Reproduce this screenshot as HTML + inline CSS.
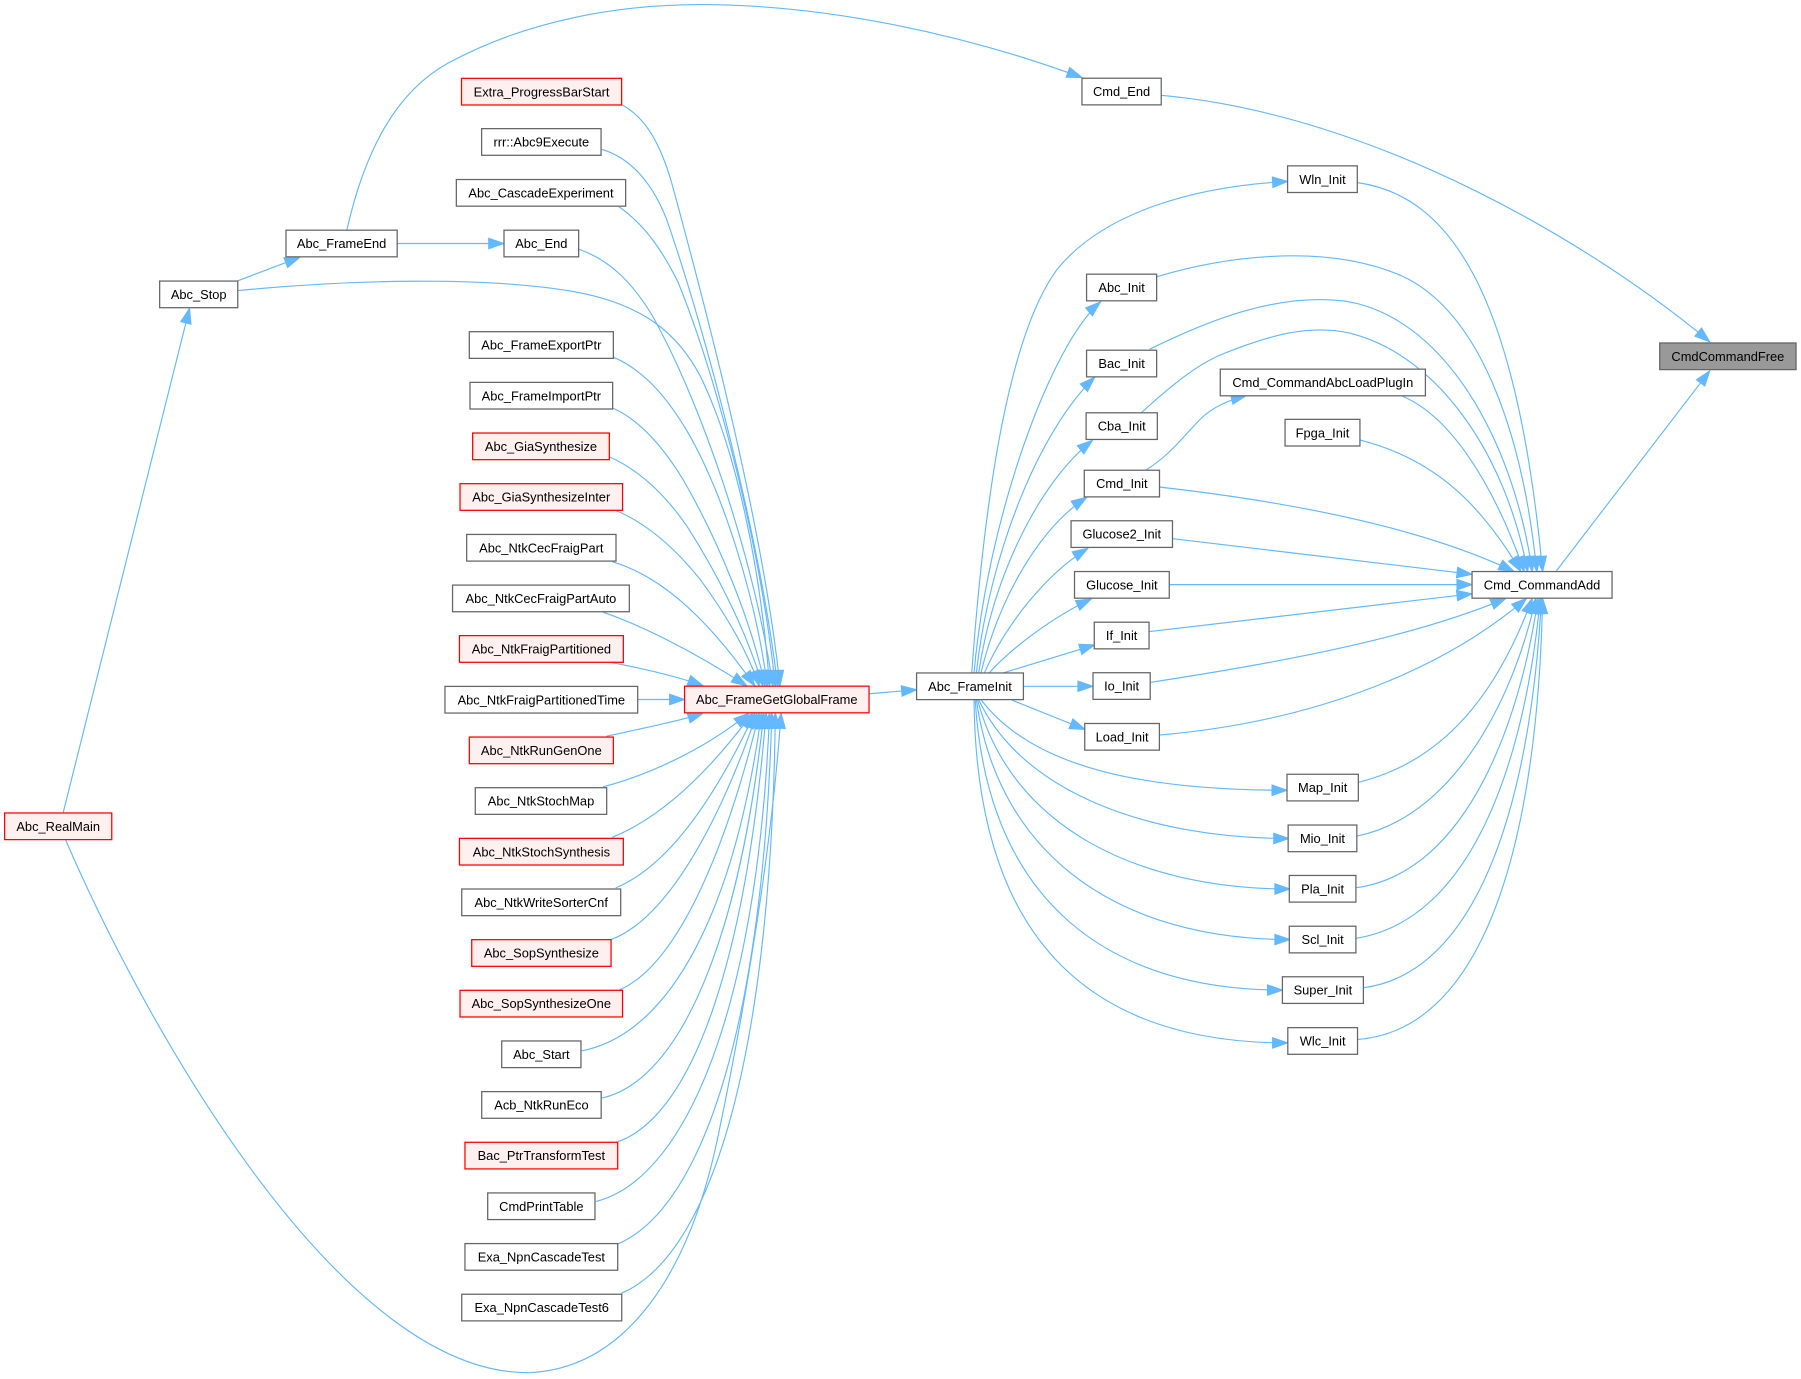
<!DOCTYPE html>
<html><head><meta charset="utf-8"><style>
html,body{margin:0;padding:0;background:#fff;}
svg{display:block;}
.n rect{fill:#fff;stroke:#666;stroke-width:1.1;}
.n.r rect{fill:#fff0f0;stroke:#ff0000;}
.n.g rect{fill:#999;stroke:#666;}
text{font-family:"Liberation Sans",Arial,Helvetica,sans-serif;font-size:11.2px;fill:#000;text-anchor:middle;}
.e{fill:none;stroke:#63b8ff;stroke-width:1;marker-end:url(#a);}
</style></head><body>
<svg width="1801" height="1379" viewBox="0 0 1568 1200.6" xmlns="http://www.w3.org/2000/svg">
<defs><marker id="a" markerUnits="userSpaceOnUse" markerWidth="16" markerHeight="12" refX="13" refY="5" orient="auto" overflow="visible"><path d="M0,0.5 L13,5 L0,9.5 z" fill="#63b8ff" stroke="#63b8ff" stroke-width="1"/></marker></defs>

<!-- edges -->
<g>
<path class="e" d="M55,707.5 L165,268.5"/>
<path class="e" d="M207,244.5 L261,224"/>
<path class="e" d="M346,212 L438.5,212"/>
<path class="e" d="M302,200 C318,130 345,80 390,55 C460,17 540,4 610,4 C720,4 840,30 942,67.5"/>
<path class="e" d="M1011,83 C1200,100 1390,215 1488.5,297.5"/>
<path class="e" d="M1355,497 L1488.5,323"/>
<path class="e" d="M57,731 C130,900 300,1200 463,1195 C545,1190 600,1110 625,990 C648,880 672,740 680,621"/>
<path class="e" d="M207,253 C300,244 420,240 500,254 C560,265 590,290 610,328 C640,390 662,490 670,597"/>
<path class="e" d="M541,91 C562,102 575,125 585,160 C615,270 665,460 679,597"/>
<path class="e" d="M524,130 C550,138 568,160 580,190 C615,290 662,470 677,597"/>
<path class="e" d="M539,180 C560,195 575,215 590,245 C625,330 663,480 675,597"/>
<path class="e" d="M504,217 C530,226 550,245 568,275 C610,350 655,480 673,597"/>
<path class="e" d="M534,311 C560,322 580,345 598,375 C630,430 658,520 668,597"/>
<path class="e" d="M533,355 C558,366 578,390 595,418 C625,470 654,540 666,597"/>
<path class="e" d="M531,398 C558,410 580,432 598,458 C625,500 650,550 664,597"/>
<path class="e" d="M535,444 C565,456 590,480 610,505 C632,535 650,565 661,597"/>
<path class="e" d="M533,489 C570,500 610,530 657,597"/>
<path class="e" d="M525,533 C560,545 605,568 650,597"/>
<path class="e" d="M528,576 C560,582 590,589 612,597"/>
<path class="e" d="M555,609 L596,609"/>
<path class="e" d="M528,641 C560,634 590,628 612,621"/>
<path class="e" d="M525,685 C560,676 610,655 652,621"/>
<path class="e" d="M533,729 C575,712 615,675 655,621"/>
<path class="e" d="M536,773 C580,755 620,700 657,621"/>
<path class="e" d="M532,818 C580,800 625,720 659,621"/>
<path class="e" d="M539,862 C590,840 632,740 661,621"/>
<path class="e" d="M506,915 C585,900 640,790 663,621"/>
<path class="e" d="M524,956 C595,940 645,810 665,621"/>
<path class="e" d="M538,994 C605,970 650,830 667,621"/>
<path class="e" d="M519,1046 C600,1025 660,870 670,621"/>
<path class="e" d="M538,1083 C615,1050 665,880 672,621"/>
<path class="e" d="M541,1126 C625,1090 672,900 675,621"/>
<path class="e" d="M757,604 L798,600.5"/>
<path class="e" d="M846,586 C858,420 880,290 920,235 C960,185 1040,162 1121,158"/>
<path class="e" d="M848,586 C860,450 915,300 958,263"/>
<path class="e" d="M850,586 C862,480 905,375 953,328.5"/>
<path class="e" d="M852,586 C865,500 905,420 951,383.5"/>
<path class="e" d="M854,586 C870,520 905,460 946,433"/>
<path class="e" d="M857,586 C875,545 910,500 947,477.5"/>
<path class="e" d="M861,586 C880,565 915,538 950,521.5"/>
<path class="e" d="M873,586 L953,561.5"/>
<path class="e" d="M891,597.5 L951.5,597.5"/>
<path class="e" d="M881,609.5 L944.5,635"/>
<path class="e" d="M854,609 C900,670 1000,688 1120.5,688"/>
<path class="e" d="M852,609 C890,690 1000,730 1122,730"/>
<path class="e" d="M851,609 C880,720 990,774 1123,774"/>
<path class="e" d="M850,609 C870,750 980,818 1123,818"/>
<path class="e" d="M849,609 C860,790 970,862 1116.5,862"/>
<path class="e" d="M848,609 C850,830 960,908 1121,908"/>
<path class="e" d="M1182,159 C1260,170 1320,250 1343,497.5"/>
<path class="e" d="M1007,241 C1060,225 1150,210 1220,240 C1290,272 1326,380 1338,497.5"/>
<path class="e" d="M1001,304 C1050,280 1110,255 1170,262 C1258,275 1318,385 1334,497.5"/>
<path class="e" d="M994,359 C1015,340 1040,318 1065,308 C1105,292 1140,282 1175,290 C1255,310 1312,400 1330,497.5"/>
<path class="e" d="M998,409 C1020,395 1030,380 1045,365 C1055,355 1070,348 1085,344.5"/>
<path class="e" d="M1221,345 C1262,362 1300,420 1327,497.5"/>
<path class="e" d="M1184,383 C1250,400 1290,440 1324,497.5"/>
<path class="e" d="M1009,424 C1150,440 1250,465 1318,497.5"/>
<path class="e" d="M1021,469 C1120,480 1200,490 1281.5,500"/>
<path class="e" d="M1018,509 L1281.5,509"/>
<path class="e" d="M1000,550 L1281.5,517"/>
<path class="e" d="M1002,594 C1120,576 1230,555 1311,521"/>
<path class="e" d="M1009,640 C1150,628 1260,580 1329,521"/>
<path class="e" d="M1183,681 C1260,662 1305,600 1334,521"/>
<path class="e" d="M1181,728 C1270,710 1320,600 1337,521"/>
<path class="e" d="M1180,773 C1280,760 1325,620 1339,521"/>
<path class="e" d="M1180,817 C1290,800 1330,640 1341,521"/>
<path class="e" d="M1187,860 C1300,845 1335,660 1342,521"/>
<path class="e" d="M1182,905 C1310,895 1340,680 1343,521"/>
</g>

<!-- nodes -->
<g class="n r"><rect x="4" y="707.8" width="93.3" height="23.2"/><text x="50.65" y="723.4">Abc_RealMain</text></g>
<g class="n"><rect x="139" y="244.7" width="68" height="23.2"/><text x="173" y="260.3">Abc_Stop</text></g>
<g class="n"><rect x="249" y="200.4" width="96.8" height="23.2"/><text x="297.4" y="216">Abc_FrameEnd</text></g>
<g class="n"><rect x="438.8" y="200.4" width="65" height="23.2"/><text x="471.3" y="216">Abc_End</text></g>
<g class="n r"><rect x="401.8" y="68.2" width="139.4" height="23.2"/><text x="471.5" y="83.8">Extra_ProgressBarStart</text></g>
<g class="n"><rect x="419.3" y="112" width="104" height="23.2"/><text x="471.3" y="127.6">rrr::Abc9Execute</text></g>
<g class="n"><rect x="397.3" y="156.3" width="147.4" height="23.2"/><text x="471" y="171.9">Abc_CascadeExperiment</text></g>
<g class="n"><rect x="408.6" y="288.8" width="125.4" height="23.2"/><text x="471.3" y="304.4">Abc_FrameExportPtr</text></g>
<g class="n"><rect x="409.2" y="332.9" width="124.2" height="23.2"/><text x="471.3" y="348.5">Abc_FrameImportPtr</text></g>
<g class="n r"><rect x="411.5" y="377" width="119" height="23.2"/><text x="471" y="392.6">Abc_GiaSynthesize</text></g>
<g class="n r"><rect x="400.5" y="421.1" width="141.5" height="23.2"/><text x="471.25" y="436.7">Abc_GiaSynthesizeInter</text></g>
<g class="n"><rect x="406.3" y="465.3" width="130" height="23.2"/><text x="471.3" y="480.9">Abc_NtkCecFraigPart</text></g>
<g class="n"><rect x="394" y="509.4" width="153.9" height="23.2"/><text x="470.95" y="525">Abc_NtkCecFraigPartAuto</text></g>
<g class="n r"><rect x="400" y="553.4" width="142.7" height="23.2"/><text x="471.35" y="569">Abc_NtkFraigPartitioned</text></g>
<g class="n"><rect x="387.4" y="597.6" width="167.8" height="23.2"/><text x="471.3" y="613.2">Abc_NtkFraigPartitionedTime</text></g>
<g class="n r"><rect x="408.6" y="641.7" width="125.4" height="23.2"/><text x="471.3" y="657.3">Abc_NtkRunGenOne</text></g>
<g class="n"><rect x="413.8" y="685.8" width="114.4" height="23.2"/><text x="471" y="701.4">Abc_NtkStochMap</text></g>
<g class="n r"><rect x="400" y="729.9" width="142.7" height="23.2"/><text x="471.35" y="745.5">Abc_NtkStochSynthesis</text></g>
<g class="n"><rect x="402" y="774" width="138.4" height="23.2"/><text x="471.2" y="789.6">Abc_NtkWriteSorterCnf</text></g>
<g class="n r"><rect x="410.7" y="818.1" width="121.3" height="23.2"/><text x="471.35" y="833.7">Abc_SopSynthesize</text></g>
<g class="n r"><rect x="400.5" y="862.2" width="141.5" height="23.2"/><text x="471.25" y="877.8">Abc_SopSynthesizeOne</text></g>
<g class="n"><rect x="436.8" y="906.3" width="69" height="23.2"/><text x="471.3" y="921.9">Abc_Start</text></g>
<g class="n"><rect x="419.4" y="950.4" width="104" height="23.2"/><text x="471.4" y="966">Acb_NtkRunEco</text></g>
<g class="n r"><rect x="404.8" y="994.5" width="133" height="23.2"/><text x="471.3" y="1010.1">Bac_PtrTransformTest</text></g>
<g class="n"><rect x="424.6" y="1038.6" width="93.4" height="23.2"/><text x="471.3" y="1054.2">CmdPrintTable</text></g>
<g class="n"><rect x="404.8" y="1082.7" width="133" height="23.2"/><text x="471.3" y="1098.3">Exa_NpnCascadeTest</text></g>
<g class="n"><rect x="402" y="1126.8" width="139.3" height="23.2"/><text x="471.65" y="1142.4">Exa_NpnCascadeTest6</text></g>
<g class="n r"><rect x="596" y="597.4" width="160.6" height="23.2"/><text x="676.3" y="613">Abc_FrameGetGlobalFrame</text></g>
<g class="n"><rect x="798" y="585.9" width="93" height="23.2"/><text x="844.5" y="601.5">Abc_FrameInit</text></g>
<g class="n"><rect x="942" y="68.1" width="69" height="23.2"/><text x="976.5" y="83.7">Cmd_End</text></g>
<g class="n"><rect x="946" y="238.7" width="61" height="23.2"/><text x="976.5" y="254.3">Abc_Init</text></g>
<g class="n"><rect x="946" y="304.9" width="61" height="23.2"/><text x="976.5" y="320.5">Bac_Init</text></g>
<g class="n"><rect x="945.6" y="359.4" width="62" height="23.2"/><text x="976.6" y="375">Cba_Init</text></g>
<g class="n"><rect x="944" y="409.4" width="65.5" height="23.2"/><text x="976.75" y="425">Cmd_Init</text></g>
<g class="n"><rect x="932.5" y="453.4" width="88.3" height="23.2"/><text x="976.65" y="469">Glucose2_Init</text></g>
<g class="n"><rect x="935.5" y="497.6" width="82.5" height="23.2"/><text x="976.75" y="513.2">Glucose_Init</text></g>
<g class="n"><rect x="952.7" y="541.7" width="47.7" height="23.2"/><text x="976.55" y="557.3">If_Init</text></g>
<g class="n"><rect x="951.6" y="585.7" width="49.8" height="23.2"/><text x="976.5" y="601.3">Io_Init</text></g>
<g class="n"><rect x="944.4" y="629.9" width="65" height="23.2"/><text x="976.9" y="645.5">Load_Init</text></g>
<g class="n"><rect x="1121" y="144.4" width="60.7" height="23.2"/><text x="1151.35" y="160">Wln_Init</text></g>
<g class="n"><rect x="1062.4" y="321.4" width="178.6" height="23.2"/><text x="1151.7" y="337">Cmd_CommandAbcLoadPlugIn</text></g>
<g class="n"><rect x="1118.8" y="365.1" width="65.2" height="23.2"/><text x="1151.4" y="380.7">Fpga_Init</text></g>
<g class="n"><rect x="1120.5" y="674.1" width="62.1" height="23.2"/><text x="1151.55" y="689.7">Map_Init</text></g>
<g class="n"><rect x="1121.5" y="718.3" width="59.8" height="23.2"/><text x="1151.4" y="733.9">Mio_Init</text></g>
<g class="n"><rect x="1122.5" y="762.2" width="58" height="23.2"/><text x="1151.5" y="777.8">Pla_Init</text></g>
<g class="n"><rect x="1122.5" y="806.4" width="58" height="23.2"/><text x="1151.5" y="822">Scl_Init</text></g>
<g class="n"><rect x="1116.5" y="850.4" width="70.5" height="23.2"/><text x="1151.75" y="866">Super_Init</text></g>
<g class="n"><rect x="1121.2" y="894.7" width="60.7" height="23.2"/><text x="1151.55" y="910.3">Wlc_Init</text></g>
<g class="n"><rect x="1281.6" y="497.6" width="121.9" height="23.2"/><text x="1342.55" y="513.2">Cmd_CommandAdd</text></g>
<g class="n g"><rect x="1445" y="298.6" width="118.7" height="23.2"/><text x="1504.35" y="314.2">CmdCommandFree</text></g>
</svg>
</body></html>
